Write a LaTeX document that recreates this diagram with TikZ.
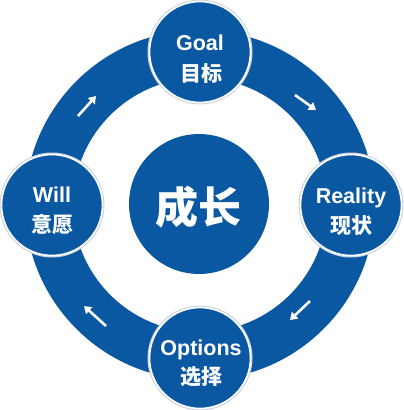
\documentclass[tikz,border=0pt]{standalone}
\usepackage{fontspec}
\setmainfont{Liberation Sans}
\newfontfamily\cjk{Noto Sans CJK SC}
\usetikzlibrary{arrows.meta}
\definecolor{ringblue}{RGB}{11,88,162}
\definecolor{halo}{RGB}{205,214,226}
\tikzset{
  sat/.style={circle, fill=ringblue, draw=white, line width=1.6pt, minimum size=101pt, inner sep=0pt},
  satHalo/.style={circle, fill=halo, minimum size=105pt, inner sep=0pt},
  en/.style={text=white, font=\bfseries\fontsize{21.5}{24}\selectfont, anchor=base, inner sep=0pt},
  zh/.style={text=white, font=\cjk\bfseries\fontsize{21}{24}\selectfont, anchor=center, inner sep=0pt},
  flow/.style={draw=white, line width=2.6pt, -{Triangle[length=7pt,width=9pt]}}
}
\begin{document}
\begin{tikzpicture}[x=1pt,y=-1pt]
\useasboundingbox (0,0) rectangle (404,410);
% ring
\fill[ringblue, even odd rule] (200,205) circle[radius=175] (200,205) circle[radius=127];
% center
\node[circle, fill=ringblue, minimum size=140pt, inner sep=0pt] (core) at (199,204) {};
\node[text=white, font=\cjk\bfseries\fontsize{43}{46}\selectfont, inner sep=0pt] (coreText) at (198,207) {成长};
% flow arrows
\coordinate (a1s) at (78,116);  \coordinate (a1e) at (96,96);
\coordinate (a2s) at (295,95);  \coordinate (a2e) at (316,110);
\coordinate (a3s) at (310,301); \coordinate (a3e) at (290,320);
\coordinate (a4s) at (106,326); \coordinate (a4e) at (84,306);
\draw[flow] (a1s) -- (a1e);
\draw[flow] (a2s) -- (a2e);
\draw[flow] (a3s) -- (a3e);
\draw[flow] (a4s) -- (a4e);
% satellites
\node[satHalo] (goalH) at (200,52) {};
\node[sat] (goal) at (200,52) {};
\node[en] (goalEn) at (200,50) {Goal};
\node[zh] (goalZh) at (201,74) {目标};

\node[satHalo] (willH) at (52,205) {};
\node[sat] (will) at (52,205) {};
\node[en] (willEn) at (52,202) {Will};
\node[zh] (willZh) at (52,224) {意愿};

\node[satHalo] (realH) at (351,205) {};
\node[sat] (reality) at (351,205) {};
\node[en] (realEn) at (351,203) {Reality};
\node[zh] (realZh) at (351,226) {现状};

\node[satHalo] (optH) at (200,358) {};
\node[sat] (options) at (200,358) {};
\node[en] (optEn) at (201,355) {Options};
\node[zh] (optZh) at (201,377) {选择};
\end{tikzpicture}
\end{document}
